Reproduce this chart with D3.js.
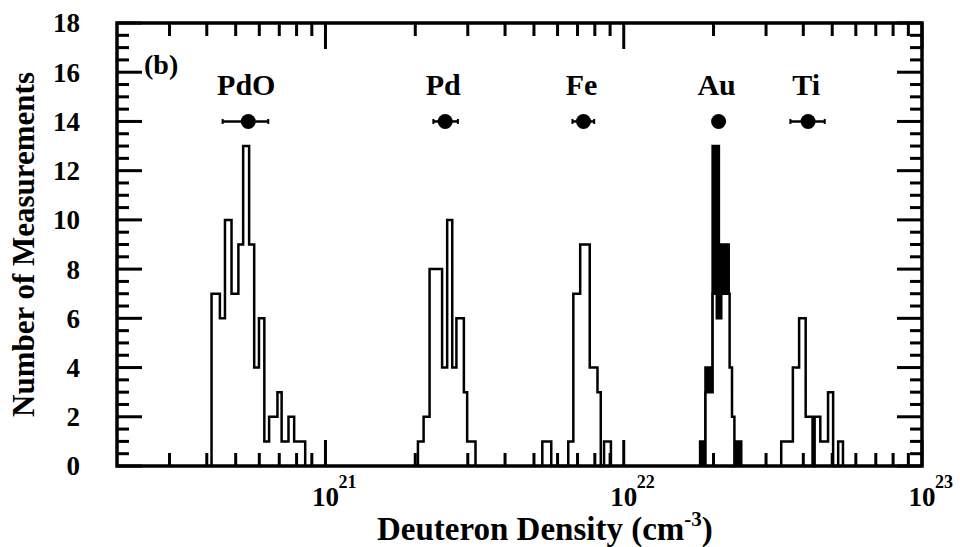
<!DOCTYPE html>
<html>
<head>
<meta charset="utf-8">
<script src="https://cdn.jsdelivr.net/npm/d3@7"></script>
<style>
  body { margin: 0; background: #fff; }
  svg text { font-family: "Liberation Serif", "Times New Roman", serif; font-weight: bold; fill: #000; }
</style>
</head>
<body>
<div id="chart"></div>
<script>
// material labels and the mean density (cm^-3) with its spread, plotted at y = 14
const materials = ['PdO', 'Pd', 'Fe', 'Au', 'Ti'];
const meanDensity = [5.51e20, 2.52e21, 7.33e21, 2.08e22, 4.15e22];
const errLow = [4.52e20, 2.30e21, 6.73e21, 2.07e22, 3.62e22];
const errHigh = [6.43e20, 2.78e21, 7.96e21, 2.09e22, 4.72e22];
const markerLevel = 14;

// histogram bin edges as log10(density), counts per bin
const pdoEdges = [20.618, 20.646, 20.663, 20.685, 20.708, 20.724, 20.744, 20.761, 20.777, 20.795, 20.811, 20.839, 20.853, 20.876, 20.895, 20.932];
const pdoCounts = [7, 6, 10, 7, 9, 13, 9, 4, 6, 1, 2, 3, 1, 2, 1];

const pdEdges = [21.310, 21.329, 21.349, 21.391, 21.408, 21.425, 21.439, 21.464, 21.475, 21.503];
const pdCounts = [1, 2, 8, 4, 10, 4, 6, 3, 1];

const feEdges = [21.727, 21.757, 21.814, 21.831, 21.854, 21.886, 21.912, 21.923, 21.934, 21.957];
const feCounts = [1, 0, 1, 7, 9, 4, 3, 0, 1];

// Au has a filled histogram behind the open one
const auFillEdges = [22.256, 22.274, 22.298, 22.319, 22.352, 22.371, 22.394];
const auFillCounts = [1, 4, 13, 9, 0, 1];
const auEdges = [22.274, 22.298, 22.312, 22.327, 22.355, 22.363, 22.371];
const auCounts = [3, 7, 6, 7, 4, 2];

const tiEdges = [22.528, 22.567, 22.588, 22.610, 22.633, 22.640, 22.659, 22.685, 22.702, 22.719, 22.735];
const tiCounts = [1, 4, 6, 2, 0, 2, 1, 3, 0, 1];

const xMajor = [1e21, 1e22, 1e23];
const xExponents = ['21', '22', '23'];
const xMinor = [3e20, 4e20, 5e20, 6e20, 7e20, 8e20, 9e20,
  2e21, 3e21, 4e21, 5e21, 6e21, 7e21, 8e21, 9e21,
  2e22, 3e22, 4e22, 5e22, 6e22, 7e22, 8e22, 9e22];
const yMajor = [0, 2, 4, 6, 8, 10, 12, 14, 16, 18];

const width = 960, height = 547;
const plotLeft = 117, plotRight = 922, plotTop = 23, plotBottom = 466;

const svg = d3.select('#chart').append('svg')
  .attr('width', width)
  .attr('height', height);

const x = d3.scaleLog().domain([2e20, 1e23]).range([plotLeft, plotRight]);
const y = d3.scaleLinear().domain([0, 18]).range([plotBottom, plotTop]);

const yMinor = d3.range(1, 36).map(i => i / 2).filter(v => v % 2 !== 0);

// step outline from edges + counts
function stepPoints(edges, counts) {
  const pts = [[edges[0], 0]];
  counts.forEach((c, i) => {
    pts.push([edges[i], c]);
    pts.push([edges[i + 1], c]);
  });
  pts.push([edges[edges.length - 1], 0]);
  return pts;
}
const step = d3.line()
  .x(d => x(Math.pow(10, d[0])))
  .y(d => y(d[1]));

const hist = svg.append('g');
hist.append('path')
  .attr('d', step(stepPoints(auFillEdges, auFillCounts)))
  .attr('fill', '#000')
  .attr('stroke', '#000')
  .attr('stroke-width', 2.5);

[[pdoEdges, pdoCounts], [pdEdges, pdCounts], [feEdges, feCounts], [auEdges, auCounts], [tiEdges, tiCounts]]
  .forEach(([e, c]) => {
    hist.append('path')
      .attr('d', step(stepPoints(e, c)))
      .attr('fill', '#fff')
      .attr('stroke', '#000')
      .attr('stroke-width', 2.5)
      .attr('stroke-linejoin', 'miter');
  });

// frame
svg.append('rect')
  .attr('x', plotLeft).attr('y', plotTop)
  .attr('width', plotRight - plotLeft).attr('height', plotBottom - plotTop)
  .attr('fill', 'none')
  .attr('stroke', '#000')
  .attr('stroke-width', 3.5);

// ticks on all four sides, pointing inwards, as small filled rects
const tickG = svg.append('g').attr('fill', '#000');
function xTicks(values, len) {
  [plotBottom - len, plotTop].forEach(ty => {
    tickG.selectAll(null).data(values).enter().append('rect')
      .attr('x', d => x(d) - 1.5)
      .attr('y', ty)
      .attr('width', 3)
      .attr('height', len);
  });
}
function yTicks(values, len) {
  [plotLeft, plotRight - len].forEach(tx => {
    tickG.selectAll(null).data(values).enter().append('rect')
      .attr('x', tx)
      .attr('y', d => y(d) - 1.5)
      .attr('width', len)
      .attr('height', 3);
  });
}
xTicks(xMajor, 26);
xTicks(xMinor, 13);
yTicks(yMajor, 25);
yTicks(yMinor, 12);

// tick labels
svg.append('g').selectAll('text')
  .data(yMajor)
  .enter().append('text')
  .attr('x', 80)
  .attr('y', d => y(d))
  .attr('dy', '0.35em')
  .attr('text-anchor', 'end')
  .style('font-size', '27px')
  .text(d => d);

const xl = svg.append('g');
xMajor.forEach((v, i) => {
  xl.append('text')
    .attr('x', x(v))
    .attr('y', 506)
    .attr('text-anchor', 'middle')
    .style('font-size', '27px')
    .text('10');
  xl.append('text')
    .attr('x', x(v) + 13)
    .attr('y', 488)
    .style('font-size', '18px')
    .text(xExponents[i]);
});

// axis titles
const xt = svg.append('text')
  .attr('x', 377)
  .attr('y', 540)
  .style('font-size', '33px');
xt.append('tspan').text('Deuteron Density (cm');
xt.append('tspan').attr('dy', -14).style('font-size', '21px').text('-3');
xt.append('tspan').attr('dy', 14).text(')');

svg.append('text')
  .attr('transform', `translate(34,${(plotTop + plotBottom) / 2}) rotate(-90)`)
  .attr('text-anchor', 'middle')
  .style('font-size', '31px')
  .text('Number of Measurements');

svg.append('text')
  .attr('x', 144)
  .attr('y', 74)
  .style('font-size', '28px')
  .text('(b)');

// mean density markers with horizontal error bars
const marks = svg.append('g');
materials.forEach((m, i) => {
  const cy = y(markerLevel);
  marks.append('line')
    .attr('x1', x(errLow[i])).attr('x2', x(errHigh[i]))
    .attr('y1', cy).attr('y2', cy)
    .attr('stroke', '#000').attr('stroke-width', 2.5);
  [errLow[i], errHigh[i]].forEach(v => {
    marks.append('line')
      .attr('x1', x(v)).attr('x2', x(v))
      .attr('y1', cy - 2.5).attr('y2', cy + 2.5)
      .attr('stroke', '#000').attr('stroke-width', 2);
  });
  marks.append('circle')
    .attr('cx', x(meanDensity[i]))
    .attr('cy', cy)
    .attr('r', 7.5)
    .attr('fill', '#000');
  marks.append('text')
    .attr('x', x(meanDensity[i]) - 2)
    .attr('y', cy - 26)
    .attr('text-anchor', 'middle')
    .style('font-size', '30px')
    .text(m);
});
</script>
</body>
</html>
